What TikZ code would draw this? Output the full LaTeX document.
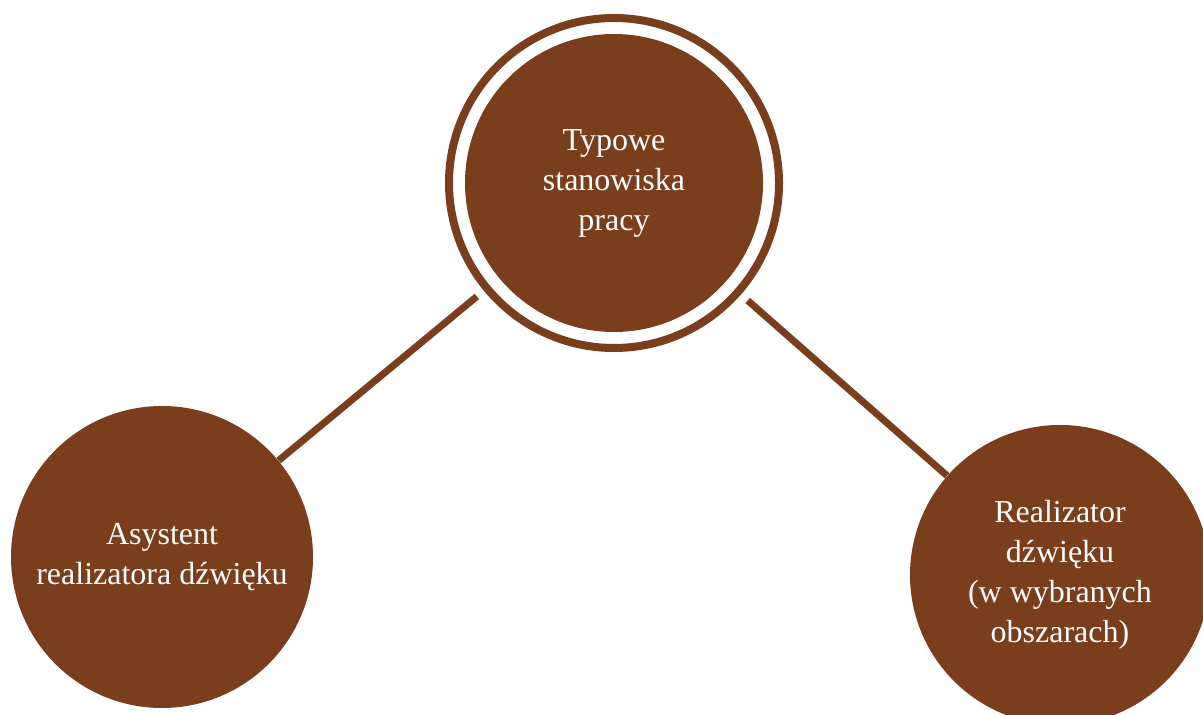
\documentclass[tikz,border=0pt]{standalone}
\usepackage{fontspec}
\setmainfont{Liberation Serif}
\definecolor{brz}{RGB}{123,62,28}
\begin{document}
\begin{tikzpicture}[x=0.5pt, y=-0.5pt,
    bubble/.style={circle, fill=brz, text=white, align=center, inner sep=0pt, font=\fontsize{16}{20}\selectfont},
    link/.style={draw=brz, line width=3.5pt}]
    \useasboundingbox (0,0) rectangle (1203,715);
    \clip (0,0) rectangle (1203,715);
    \node[circle, draw=brz, line width=4pt, minimum size=165pt, outer sep=6.5pt] (ring) at (614,183) {};
    \node[bubble, minimum size=149pt] (stan) at (614,183) {Typowe\\stanowiska\\pracy};
    \node[bubble, minimum size=151pt] (asyst) at (162,557) {Asystent\\realizatora dźwięku};
    \node[bubble, minimum size=150pt] (real) at (1060,575) {Realizator\\dźwięku\\(w wybranych\\obszarach)};
    \draw[link] (ring) -- (asyst);
    \draw[link] (ring) -- (real);
\end{tikzpicture}
\end{document}
